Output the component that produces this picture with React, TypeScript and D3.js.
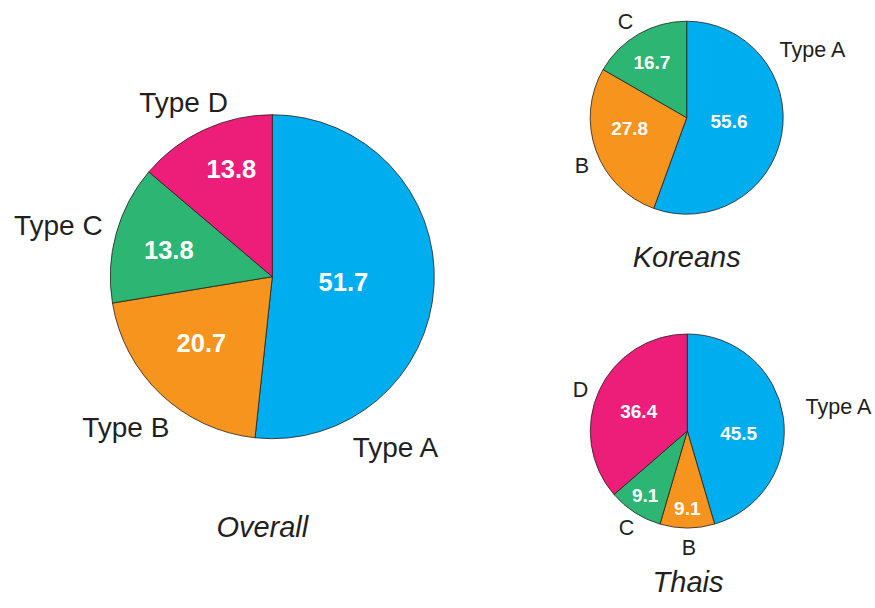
import React from "react";
import * as d3 from "d3";

// ---- data ----
const overallTypes = ["Type A", "Type B", "Type C", "Type D"];
const overallValues = [51.7, 20.7, 13.8, 13.8];

const koreanTypes = ["Type A", "Type B", "Type C"];
const koreanValues = [55.6, 27.8, 16.7];
const koreanLabels = ["Type A", "B", "C"];

const thaiTypes = ["Type A", "Type B", "Type C", "Type D"];
const thaiValues = [45.5, 9.1, 9.1, 36.4];
const thaiLabels = ["Type A", "B", "C", "D"];

const chartTitles = ["Overall", "Koreans", "Thais"];

// ---- styles / layout ----
const colorScale = d3
  .scaleOrdinal<string, string>()
  .domain(["Type A", "Type B", "Type C", "Type D"])
  .range(["#00AEEF", "#F7941D", "#2DB673", "#ED1E79"]);

const FONT = "'Liberation Sans', Arial, Helvetica, sans-serif";
const INK = "#231F20";

type Layout = {
  cx: number;
  cy: number;
  r: number;
  valueFont: number;
  labelFont: number;
  valueK: number[]; // radius factor per slice
  valueNudge: number[]; // angle nudge (deg) per slice
  labelOffsets: [number, number][]; // baseline offsets from center
  titleOffset: [number, number];
};

const layouts: Layout[] = [
  {
    cx: 272.3,
    cy: 276.7,
    r: 162,
    valueFont: 25.5,
    labelFont: 28,
    valueK: [0.44, 0.6, 0.66, 0.71],
    valueNudge: [1, 3.5, -1, 4],
    labelOffsets: [
      [123.2, 180.3],
      [-146.5, 160],
      [-214, -41.7],
      [-88.8, -165],
    ],
    titleOffset: [-10, 260],
  },
  {
    cx: 686.7,
    cy: 117.7,
    r: 96.5,
    valueFont: 19,
    labelFont: 21.5,
    valueK: [0.44, 0.6, 0.68],
    valueNudge: [-5.8, 10, -2],
    labelOffsets: [
      [125.8, -61],
      [-104.7, 55.3],
      [-61.2, -88.4],
    ],
    titleOffset: [0, 149],
  },
  {
    cx: 687.3,
    cy: 431,
    r: 97,
    valueFont: 19,
    labelFont: 21.5,
    valueK: [0.53, 0.8, 0.79, 0.54],
    valueNudge: [11, 0, 0.7, -2.6],
    labelOffsets: [
      [151.2, -16.7],
      [1.7, 124],
      [-60.8, 104],
      [-106.8, -34.3],
    ],
    titleOffset: [0.7, 160.7],
  },
];

type PieProps = {
  types: string[];
  values: number[];
  labels: string[];
  title: string;
  layout: Layout;
};

function Pie({ types, values, labels, title, layout }: PieProps) {
  const pie = d3
    .pie<number>()
    .sort(null)
    .value((d) => d);
  const arcs = pie(values);
  const arc = d3
    .arc<d3.PieArcDatum<number>>()
    .innerRadius(0)
    .outerRadius(layout.r);
  const { cx, cy, r } = layout;
  return (
    <g>
      <g transform={`translate(${cx},${cy})`}>
        {arcs.map((a, i) => (
          <path
            key={i}
            d={arc(a) || ""}
            fill={colorScale(types[i])}
            stroke={INK}
            strokeWidth={0.8}
          />
        ))}
        {arcs.map((a, i) => {
          const mid = (a.startAngle + a.endAngle) / 2 + (layout.valueNudge[i] * Math.PI) / 180;
          const d = layout.valueK[i] * r;
          const x = d * Math.sin(mid);
          const y = -d * Math.cos(mid);
          return (
            <text
              key={"v" + i}
              x={x}
              y={y + layout.valueFont * 0.36}
              textAnchor="middle"
              fontFamily={FONT}
              fontWeight="bold"
              fontSize={layout.valueFont}
              fill="#FFFFFF"
            >
              {values[i].toFixed(1)}
            </text>
          );
        })}
        {labels.map((l, i) => (
          <text
            key={"l" + i}
            x={layout.labelOffsets[i][0]}
            y={layout.labelOffsets[i][1]}
            textAnchor="middle"
            fontFamily={FONT}
            fontSize={layout.labelFont}
            fill={INK}
          >
            {l}
          </text>
        ))}
        <text
          x={layout.titleOffset[0]}
          y={layout.titleOffset[1]}
          textAnchor="middle"
          fontFamily={FONT}
          fontStyle="italic"
          fontSize={29}
          fill={INK}
        >
          {title}
        </text>
      </g>
    </g>
  );
}

export default function App() {
  return (
    <svg
      width={875}
      height={608}
      style={{ position: "absolute", left: 0, top: 0, background: "#fff" }}
    >
      <rect width={875} height={608} fill="#fff" />
      <Pie
        types={overallTypes}
        values={overallValues}
        labels={overallTypes}
        title={chartTitles[0]}
        layout={layouts[0]}
      />
      <Pie
        types={koreanTypes}
        values={koreanValues}
        labels={koreanLabels}
        title={chartTitles[1]}
        layout={layouts[1]}
      />
      <Pie
        types={thaiTypes}
        values={thaiValues}
        labels={thaiLabels}
        title={chartTitles[2]}
        layout={layouts[2]}
      />
    </svg>
  );
}
